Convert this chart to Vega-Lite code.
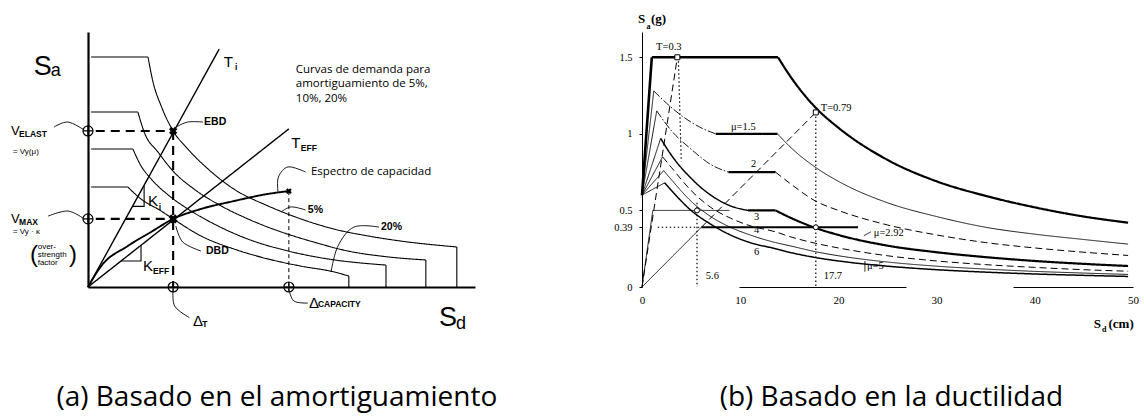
{
  "$schema": "https://vega.github.io/schema/vega-lite/v6.json",
  "background": "white",
  "padding": {"left": 10, "top": 13, "right": 0, "bottom": 0},
  "config": {"view": {"stroke": null}, "axis": {"grid": false, "domainColor": "black", "tickColor": "black", "labelColor": "black"}},
  "spacing": 167,
  "bounds": "flush",
  "resolve": {"scale": {"x": "independent", "y": "independent", "strokeDash": "independent", "strokeWidth": "independent"}},
  "datasets": {
    "Lstraight": [
      {"id": "Ap", "k": "thin", "i": 0, "x": 0.08, "y": 9.02}, {"id": "Ap", "k": "thin", "i": 1, "x": 1.55, "y": 9.02},
      {"id": "Ad", "k": "thin", "i": 0, "x": 9.53, "y": 1.57}, {"id": "Ad", "k": "thin", "i": 1, "x": 9.53, "y": 0},
      {"id": "Bp", "k": "thin", "i": 0, "x": 0.08, "y": 6.86}, {"id": "Bp", "k": "thin", "i": 1, "x": 1.29, "y": 6.86},
      {"id": "Bd", "k": "thin", "i": 0, "x": 8.73, "y": 1.06}, {"id": "Bd", "k": "thin", "i": 1, "x": 8.73, "y": 0},
      {"id": "Cp", "k": "thin", "i": 0, "x": 0.08, "y": 5.41}, {"id": "Cp", "k": "thin", "i": 1, "x": 1.16, "y": 5.41},
      {"id": "Cd", "k": "thin", "i": 0, "x": 7.7, "y": 0.86}, {"id": "Cd", "k": "thin", "i": 1, "x": 7.7, "y": 0},
      {"id": "Dp", "k": "thin", "i": 0, "x": 0.08, "y": 3.92}, {"id": "Dp", "k": "thin", "i": 1, "x": 1.03, "y": 3.92},
      {"id": "Dd", "k": "thin", "i": 0, "x": 6.74, "y": 0.43}, {"id": "Dd", "k": "thin", "i": 1, "x": 6.74, "y": 0},
      {"id": "Ti", "k": "med", "i": 0, "x": 0, "y": 0}, {"id": "Ti", "k": "med", "i": 1, "x": 3.39, "y": 9.33},
      {"id": "Te", "k": "med", "i": 0, "x": 0, "y": 0}, {"id": "Te", "k": "med", "i": 1, "x": 5.19, "y": 6.2},
      {"id": "Kt", "k": "thin", "i": 0, "x": 1.15, "y": 3.16}, {"id": "Kt", "k": "thin", "i": 1, "x": 1.45, "y": 3.16}, {"id": "Kt", "k": "thin", "i": 2, "x": 1.45, "y": 3.99},
      {"id": "Ke", "k": "thin", "i": 0, "x": 0.85, "y": 1.02}, {"id": "Ke", "k": "thin", "i": 1, "x": 1.37, "y": 1.02}, {"id": "Ke", "k": "thin", "i": 2, "x": 1.37, "y": 1.64},
      {"id": "h1", "k": "bdash", "i": 0, "x": 0.2, "y": 6.12}, {"id": "h1", "k": "bdash", "i": 1, "x": 2.2, "y": 6.12},
      {"id": "v1", "k": "bdash", "i": 0, "x": 2.2, "y": 6.12}, {"id": "v1", "k": "bdash", "i": 1, "x": 2.2, "y": 0},
      {"id": "h2", "k": "bdash", "i": 0, "x": 0.2, "y": 2.67}, {"id": "h2", "k": "bdash", "i": 1, "x": 2.2, "y": 2.67},
      {"id": "v2", "k": "fdash", "i": 0, "x": 5.19, "y": 3.76}, {"id": "v2", "k": "fdash", "i": 1, "x": 5.19, "y": 0}
    ],
    "Lsmooth": [
      {"id": "A", "k": "thin", "i": 0, "x": 1.55, "y": 9.02}, {"id": "A", "k": "thin", "i": 1, "x": 1.68, "y": 8.04}, {"id": "A", "k": "thin", "i": 2, "x": 1.89, "y": 7.1}, {"id": "A", "k": "thin", "i": 3, "x": 2.2, "y": 6.12}, {"id": "A", "k": "thin", "i": 4, "x": 2.58, "y": 5.41}, {"id": "A", "k": "thin", "i": 5, "x": 3.1, "y": 4.63}, {"id": "A", "k": "thin", "i": 6, "x": 3.77, "y": 3.84}, {"id": "A", "k": "thin", "i": 7, "x": 4.65, "y": 3.18}, {"id": "A", "k": "thin", "i": 8, "x": 5.5, "y": 2.67}, {"id": "A", "k": "thin", "i": 9, "x": 6.36, "y": 2.27}, {"id": "A", "k": "thin", "i": 10, "x": 7.24, "y": 2.0}, {"id": "A", "k": "thin", "i": 11, "x": 8.09, "y": 1.8}, {"id": "A", "k": "thin", "i": 12, "x": 9.53, "y": 1.57},
      {"id": "B", "k": "thin", "i": 0, "x": 1.29, "y": 6.86}, {"id": "B", "k": "thin", "i": 1, "x": 1.45, "y": 6.08}, {"id": "B", "k": "thin", "i": 2, "x": 1.81, "y": 5.29}, {"id": "B", "k": "thin", "i": 3, "x": 2.22, "y": 4.51}, {"id": "B", "k": "thin", "i": 4, "x": 2.74, "y": 3.84}, {"id": "B", "k": "thin", "i": 5, "x": 3.44, "y": 3.18}, {"id": "B", "k": "thin", "i": 6, "x": 4.13, "y": 2.67}, {"id": "B", "k": "thin", "i": 7, "x": 4.99, "y": 2.16}, {"id": "B", "k": "thin", "i": 8, "x": 5.84, "y": 1.76}, {"id": "B", "k": "thin", "i": 9, "x": 6.72, "y": 1.41}, {"id": "B", "k": "thin", "i": 10, "x": 7.75, "y": 1.18}, {"id": "B", "k": "thin", "i": 11, "x": 8.73, "y": 1.06},
      {"id": "C", "k": "thin", "i": 0, "x": 1.16, "y": 5.41}, {"id": "C", "k": "thin", "i": 1, "x": 1.37, "y": 4.75}, {"id": "C", "k": "thin", "i": 2, "x": 1.63, "y": 4.24}, {"id": "C", "k": "thin", "i": 3, "x": 2.07, "y": 3.61}, {"id": "C", "k": "thin", "i": 4, "x": 2.58, "y": 3.06}, {"id": "C", "k": "thin", "i": 5, "x": 3.26, "y": 2.47}, {"id": "C", "k": "thin", "i": 6, "x": 4.13, "y": 1.88}, {"id": "C", "k": "thin", "i": 7, "x": 5.17, "y": 1.41}, {"id": "C", "k": "thin", "i": 8, "x": 6.2, "y": 1.1}, {"id": "C", "k": "thin", "i": 9, "x": 7.7, "y": 0.86},
      {"id": "D", "k": "thin", "i": 0, "x": 1.03, "y": 3.92}, {"id": "D", "k": "thin", "i": 1, "x": 1.37, "y": 3.45}, {"id": "D", "k": "thin", "i": 2, "x": 1.89, "y": 2.98}, {"id": "D", "k": "thin", "i": 3, "x": 2.2, "y": 2.67}, {"id": "D", "k": "thin", "i": 4, "x": 2.92, "y": 2.0}, {"id": "D", "k": "thin", "i": 5, "x": 3.77, "y": 1.49}, {"id": "D", "k": "thin", "i": 6, "x": 4.65, "y": 1.1}, {"id": "D", "k": "thin", "i": 7, "x": 5.5, "y": 0.82}, {"id": "D", "k": "thin", "i": 8, "x": 6.36, "y": 0.59}, {"id": "D", "k": "thin", "i": 9, "x": 6.74, "y": 0.43},
      {"id": "Cap", "k": "thick", "i": 0, "x": 0, "y": 0}, {"id": "Cap", "k": "thick", "i": 1, "x": 0.34, "y": 0.82}, {"id": "Cap", "k": "thick", "i": 2, "x": 1.03, "y": 1.61}, {"id": "Cap", "k": "thick", "i": 3, "x": 1.63, "y": 2.16}, {"id": "Cap", "k": "thick", "i": 4, "x": 2.2, "y": 2.67}, {"id": "Cap", "k": "thick", "i": 5, "x": 2.92, "y": 3.06}, {"id": "Cap", "k": "thick", "i": 6, "x": 3.77, "y": 3.37}, {"id": "Cap", "k": "thick", "i": 7, "x": 4.65, "y": 3.65}, {"id": "Cap", "k": "thick", "i": 8, "x": 5.19, "y": 3.76}
    ],
    "Llead": [
      {"id": "ve", "i": 0, "x": -0.88, "y": 6.27}, {"id": "ve", "i": 1, "x": -0.52, "y": 6.47}, {"id": "ve", "i": 2, "x": -0.1, "y": 6.16},
      {"id": "vm", "i": 0, "x": -1.03, "y": 2.78}, {"id": "vm", "i": 1, "x": -0.52, "y": 2.98}, {"id": "vm", "i": 2, "x": -0.1, "y": 2.67},
      {"id": "eb", "i": 0, "x": 2.27, "y": 6.27}, {"id": "eb", "i": 1, "x": 2.58, "y": 6.47}, {"id": "eb", "i": 2, "x": 2.97, "y": 6.47},
      {"id": "db", "i": 0, "x": 2.27, "y": 2.39}, {"id": "db", "i": 1, "x": 2.45, "y": 1.76}, {"id": "db", "i": 2, "x": 2.92, "y": 1.41},
      {"id": "es", "i": 0, "x": 4.91, "y": 3.73}, {"id": "es", "i": 1, "x": 4.92, "y": 4.31}, {"id": "es", "i": 2, "x": 5.17, "y": 4.71}, {"id": "es", "i": 3, "x": 5.62, "y": 4.51},
      {"id": "p5", "i": 0, "x": 4.99, "y": 2.94}, {"id": "p5", "i": 1, "x": 5.25, "y": 3.14}, {"id": "p5", "i": 2, "x": 5.62, "y": 3.02},
      {"id": "p20", "i": 0, "x": 6.28, "y": 0.59}, {"id": "p20", "i": 1, "x": 6.46, "y": 1.61}, {"id": "p20", "i": 2, "x": 6.87, "y": 2.35}, {"id": "p20", "i": 3, "x": 7.52, "y": 2.35},
      {"id": "dc", "i": 0, "x": 5.19, "y": -0.08}, {"id": "dc", "i": 1, "x": 5.32, "y": -0.55}, {"id": "dc", "i": 2, "x": 5.68, "y": -0.63},
      {"id": "dt", "i": 0, "x": 2.2, "y": -0.08}, {"id": "dt", "i": 1, "x": 2.24, "y": -0.75}, {"id": "dt", "i": 2, "x": 2.62, "y": -1.2}
    ],
    "Lcirc": [{"x": 0, "y": 6.12}, {"x": 0, "y": 2.67}, {"x": 2.2, "y": 0}, {"x": 5.19, "y": 0}],
    "Lstar": [{"x": 2.2, "y": 6.12, "s": 70}, {"x": 2.2, "y": 2.67, "s": 90}, {"x": 5.19, "y": 3.76, "s": 35}],
    "Ltext": [
      {"x": -1.4, "y": 8.61, "t": "S", "r": "big"},
      {"x": 9.07, "y": -1.22, "t": "S", "r": "big"},
      {"x": -0.96, "y": 8.47, "t": "a", "r": "sub"},
      {"x": 9.51, "y": -1.45, "t": "d", "r": "sub"},
      {"x": 3.51, "y": 8.84, "t": "T", "r": "sym"},
      {"x": 5.25, "y": 5.65, "t": "T", "r": "sym"},
      {"x": 1.55, "y": 3.37, "t": "K", "r": "sym"},
      {"x": 1.42, "y": 0.82, "t": "K", "r": "sym"},
      {"x": 5.71, "y": -0.63, "t": "Δ", "r": "sym"},
      {"x": 2.71, "y": -1.33, "t": "Δ", "r": "sym"},
      {"x": -1.99, "y": 6.12, "t": "V", "r": "v"},
      {"x": -1.99, "y": 2.67, "t": "V", "r": "v"},
      {"x": 3.8, "y": 8.63, "t": "i", "r": "small"},
      {"x": 5.5, "y": 5.45, "t": "EFF", "r": "small"},
      {"x": 1.68, "y": 0.63, "t": "EFF", "r": "small"},
      {"x": 1.83, "y": 3.14, "t": "i", "r": "small"},
      {"x": -1.78, "y": 6.0, "t": "ELAST", "r": "small"},
      {"x": -1.78, "y": 2.55, "t": "MAX", "r": "small"},
      {"x": 5.94, "y": -0.67, "t": "CAPACITY", "r": "small"},
      {"x": 2.95, "y": -1.45, "t": "T", "r": "small"},
      {"x": 3.0, "y": 6.47, "t": "EBD", "r": "lab"},
      {"x": 3.05, "y": 1.41, "t": "DBD", "r": "lab"},
      {"x": 5.68, "y": 3.02, "t": "5%", "r": "lab"},
      {"x": 7.57, "y": 2.35, "t": "20%", "r": "lab"},
      {"x": -1.94, "y": 5.29, "t": "= Vy(μ)", "r": "note"},
      {"x": -1.94, "y": 2.16, "t": "= Vy · κ", "r": "note"},
      {"x": -1.3, "y": 1.57, "t": "over-", "r": "note"},
      {"x": -1.3, "y": 1.25, "t": "strength", "r": "note"},
      {"x": -1.3, "y": 0.94, "t": "factor", "r": "note"},
      {"x": -1.5, "y": 1.25, "t": "(", "r": "paren"},
      {"x": -0.49, "y": 1.25, "t": ")", "r": "paren"},
      {"x": 5.37, "y": 8.51, "t": "Curvas de demanda para", "r": "open"},
      {"x": 5.37, "y": 7.96, "t": "amortiguamiento de 5%,", "r": "open"},
      {"x": 5.37, "y": 7.37, "t": "10%, 20%", "r": "open"},
      {"x": 5.76, "y": 4.51, "t": "Espectro de capacidad", "r": "open"},
      {"x": 4.88, "y": -4.68, "t": "(a) Basado en el amortiguamiento", "r": "cap"}
    ],
    "Rstraight": [
      {"id": "Er", "k": "xthick", "i": 0, "x": 0, "y": 0.6}, {"id": "Er", "k": "xthick", "i": 1, "x": 1.0, "y": 1.5},
      {"id": "Ep", "k": "xthick", "i": 0, "x": 1.0, "y": 1.5}, {"id": "Ep", "k": "xthick", "i": 1, "x": 13.85, "y": 1.5},
      {"id": "T3", "k": "dash", "i": 0, "x": 0, "y": 0}, {"id": "T3", "k": "dash", "i": 1, "x": 3.6, "y": 1.5},
      {"id": "T79", "k": "dash", "i": 0, "x": 6.05, "y": 0.39}, {"id": "T79", "k": "dash", "i": 1, "x": 17.7, "y": 1.14},
      {"id": "Ce", "k": "thin", "i": 0, "x": 0, "y": 0}, {"id": "Ce", "k": "thin", "i": 1, "x": 6.05, "y": 0.39},
      {"id": "Cp", "k": "thick", "i": 0, "x": 6.05, "y": 0.39}, {"id": "Cp", "k": "thick", "i": 1, "x": 22.0, "y": 0.39},
      {"id": "E3", "k": "thin", "i": 0, "x": 0, "y": 0}, {"id": "E3", "k": "thin", "i": 1, "x": 1.1, "y": 0.5}, {"id": "E3", "k": "thin", "i": 2, "x": 8.9, "y": 0.5},
      {"id": "d1", "k": "dot", "i": 0, "x": 3.7, "y": 1.5}, {"id": "d1", "k": "dot", "i": 1, "x": 4.0, "y": 0.82},
      {"id": "d2", "k": "dot", "i": 0, "x": 17.7, "y": 1.14}, {"id": "d2", "k": "dot", "i": 1, "x": 17.7, "y": 0},
      {"id": "d3", "k": "dot", "i": 0, "x": 5.6, "y": 0.55}, {"id": "d3", "k": "dot", "i": 1, "x": 5.6, "y": 0},
      {"id": "d4", "k": "dot", "i": 0, "x": 1.6, "y": 0.39}, {"id": "d4", "k": "dot", "i": 1, "x": 6.05, "y": 0.39},
      {"id": "P15", "k": "thick", "i": 0, "x": 7.5, "y": 1.0}, {"id": "P15", "k": "thick", "i": 1, "x": 13.8, "y": 1.0},
      {"id": "P2", "k": "thick", "i": 0, "x": 8.8, "y": 0.75}, {"id": "P2", "k": "thick", "i": 1, "x": 13.6, "y": 0.75},
      {"id": "P3", "k": "thick", "i": 0, "x": 10.8, "y": 0.5}, {"id": "P3", "k": "thick", "i": 1, "x": 13.6, "y": 0.5},
      {"id": "r15", "k": "thin", "i": 0, "x": 0, "y": 0.6}, {"id": "r15", "k": "thin", "i": 1, "x": 1.2, "y": 1.28},
      {"id": "r2", "k": "thin", "i": 0, "x": 0, "y": 0.6}, {"id": "r2", "k": "thin", "i": 1, "x": 1.5, "y": 1.15},
      {"id": "r3", "k": "thin", "i": 0, "x": 0, "y": 0.6}, {"id": "r3", "k": "thin", "i": 1, "x": 1.9, "y": 0.97},
      {"id": "r4", "k": "thin", "i": 0, "x": 0, "y": 0.6}, {"id": "r4", "k": "thin", "i": 1, "x": 2.1, "y": 0.85},
      {"id": "r5", "k": "thin", "i": 0, "x": 0, "y": 0.6}, {"id": "r5", "k": "thin", "i": 1, "x": 2.2, "y": 0.76},
      {"id": "r6", "k": "thin", "i": 0, "x": 0, "y": 0.6}, {"id": "r6", "k": "thin", "i": 1, "x": 2.3, "y": 0.68},
      {"id": "l292", "k": "thin", "i": 0, "x": 22.6, "y": 0.335}, {"id": "l292", "k": "thin", "i": 1, "x": 23.3, "y": 0.36},
      {"id": "l5", "k": "thin", "i": 0, "x": 22.7, "y": 0.1}, {"id": "l5", "k": "thin", "i": 1, "x": 22.7, "y": 0.17}
    ],
    "Rsmooth": [
      {"id": "Ed", "k": "thick", "i": 0, "x": 13.85, "y": 1.5}, {"id": "Ed", "k": "thick", "i": 1, "x": 15, "y": 1.385}, {"id": "Ed", "k": "thick", "i": 2, "x": 17.7, "y": 1.17}, {"id": "Ed", "k": "thick", "i": 3, "x": 20, "y": 1.04}, {"id": "Ed", "k": "thick", "i": 4, "x": 25, "y": 0.83}, {"id": "Ed", "k": "thick", "i": 5, "x": 30, "y": 0.69}, {"id": "Ed", "k": "thick", "i": 6, "x": 35, "y": 0.595}, {"id": "Ed", "k": "thick", "i": 7, "x": 40, "y": 0.52}, {"id": "Ed", "k": "thick", "i": 8, "x": 45, "y": 0.46}, {"id": "Ed", "k": "thick", "i": 9, "x": 49.5, "y": 0.42},
      {"id": "m15a", "k": "dashdot", "i": 0, "x": 1.2, "y": 1.28}, {"id": "m15a", "k": "dashdot", "i": 1, "x": 2.5, "y": 1.2}, {"id": "m15a", "k": "dashdot", "i": 2, "x": 4, "y": 1.12}, {"id": "m15a", "k": "dashdot", "i": 3, "x": 6, "y": 1.04}, {"id": "m15a", "k": "dashdot", "i": 4, "x": 7.5, "y": 1.0},
      {"id": "m15b", "k": "thin", "i": 0, "x": 13.8, "y": 1.0}, {"id": "m15b", "k": "thin", "i": 1, "x": 15, "y": 0.92}, {"id": "m15b", "k": "thin", "i": 2, "x": 17.7, "y": 0.78}, {"id": "m15b", "k": "thin", "i": 3, "x": 20, "y": 0.69}, {"id": "m15b", "k": "thin", "i": 4, "x": 25, "y": 0.55}, {"id": "m15b", "k": "thin", "i": 5, "x": 30, "y": 0.46}, {"id": "m15b", "k": "thin", "i": 6, "x": 35, "y": 0.39}, {"id": "m15b", "k": "thin", "i": 7, "x": 40, "y": 0.345}, {"id": "m15b", "k": "thin", "i": 8, "x": 45, "y": 0.31}, {"id": "m15b", "k": "thin", "i": 9, "x": 49.5, "y": 0.28},
      {"id": "m2a", "k": "dashdot", "i": 0, "x": 1.5, "y": 1.15}, {"id": "m2a", "k": "dashdot", "i": 1, "x": 3, "y": 1.02}, {"id": "m2a", "k": "dashdot", "i": 2, "x": 5, "y": 0.9}, {"id": "m2a", "k": "dashdot", "i": 3, "x": 7, "y": 0.8}, {"id": "m2a", "k": "dashdot", "i": 4, "x": 8.8, "y": 0.75},
      {"id": "m2b", "k": "dash", "i": 0, "x": 13.6, "y": 0.75}, {"id": "m2b", "k": "dash", "i": 1, "x": 15, "y": 0.68}, {"id": "m2b", "k": "dash", "i": 2, "x": 17.7, "y": 0.56}, {"id": "m2b", "k": "dash", "i": 3, "x": 20, "y": 0.5}, {"id": "m2b", "k": "dash", "i": 4, "x": 25, "y": 0.405}, {"id": "m2b", "k": "dash", "i": 5, "x": 30, "y": 0.34}, {"id": "m2b", "k": "dash", "i": 6, "x": 35, "y": 0.29}, {"id": "m2b", "k": "dash", "i": 7, "x": 40, "y": 0.255}, {"id": "m2b", "k": "dash", "i": 8, "x": 45, "y": 0.227}, {"id": "m2b", "k": "dash", "i": 9, "x": 49.5, "y": 0.206},
      {"id": "m3a", "k": "med", "i": 0, "x": 1.9, "y": 0.97}, {"id": "m3a", "k": "med", "i": 1, "x": 3, "y": 0.86}, {"id": "m3a", "k": "med", "i": 2, "x": 5, "y": 0.71}, {"id": "m3a", "k": "med", "i": 3, "x": 7, "y": 0.6}, {"id": "m3a", "k": "med", "i": 4, "x": 9, "y": 0.53}, {"id": "m3a", "k": "med", "i": 5, "x": 10.8, "y": 0.5},
      {"id": "m3b", "k": "thick", "i": 0, "x": 13.6, "y": 0.5}, {"id": "m3b", "k": "thick", "i": 1, "x": 15.2, "y": 0.45}, {"id": "m3b", "k": "thick", "i": 2, "x": 17.7, "y": 0.385}, {"id": "m3b", "k": "thick", "i": 3, "x": 20, "y": 0.34}, {"id": "m3b", "k": "thick", "i": 4, "x": 25, "y": 0.27}, {"id": "m3b", "k": "thick", "i": 5, "x": 30, "y": 0.227}, {"id": "m3b", "k": "thick", "i": 6, "x": 35, "y": 0.195}, {"id": "m3b", "k": "thick", "i": 7, "x": 40, "y": 0.17}, {"id": "m3b", "k": "thick", "i": 8, "x": 45, "y": 0.151}, {"id": "m3b", "k": "thick", "i": 9, "x": 49.5, "y": 0.137},
      {"id": "m4", "k": "dash", "i": 0, "x": 2.1, "y": 0.85}, {"id": "m4", "k": "dash", "i": 1, "x": 3, "y": 0.78}, {"id": "m4", "k": "dash", "i": 2, "x": 5, "y": 0.63}, {"id": "m4", "k": "dash", "i": 3, "x": 7, "y": 0.52}, {"id": "m4", "k": "dash", "i": 4, "x": 9, "y": 0.45}, {"id": "m4", "k": "dash", "i": 5, "x": 11, "y": 0.4}, {"id": "m4", "k": "dash", "i": 6, "x": 13.6, "y": 0.36}, {"id": "m4", "k": "dash", "i": 7, "x": 15, "y": 0.33}, {"id": "m4", "k": "dash", "i": 8, "x": 17.7, "y": 0.285}, {"id": "m4", "k": "dash", "i": 9, "x": 20, "y": 0.255}, {"id": "m4", "k": "dash", "i": 10, "x": 25, "y": 0.204}, {"id": "m4", "k": "dash", "i": 11, "x": 30, "y": 0.17}, {"id": "m4", "k": "dash", "i": 12, "x": 35, "y": 0.146}, {"id": "m4", "k": "dash", "i": 13, "x": 40, "y": 0.128}, {"id": "m4", "k": "dash", "i": 14, "x": 45, "y": 0.113}, {"id": "m4", "k": "dash", "i": 15, "x": 49.5, "y": 0.103},
      {"id": "m5", "k": "thin", "i": 0, "x": 2.2, "y": 0.76}, {"id": "m5", "k": "thin", "i": 1, "x": 3, "y": 0.7}, {"id": "m5", "k": "thin", "i": 2, "x": 5, "y": 0.56}, {"id": "m5", "k": "thin", "i": 3, "x": 7, "y": 0.46}, {"id": "m5", "k": "thin", "i": 4, "x": 9, "y": 0.39}, {"id": "m5", "k": "thin", "i": 5, "x": 11, "y": 0.34}, {"id": "m5", "k": "thin", "i": 6, "x": 13.6, "y": 0.29}, {"id": "m5", "k": "thin", "i": 7, "x": 15, "y": 0.27}, {"id": "m5", "k": "thin", "i": 8, "x": 17.7, "y": 0.23}, {"id": "m5", "k": "thin", "i": 9, "x": 20, "y": 0.204}, {"id": "m5", "k": "thin", "i": 10, "x": 25, "y": 0.163}, {"id": "m5", "k": "thin", "i": 11, "x": 30, "y": 0.136}, {"id": "m5", "k": "thin", "i": 12, "x": 35, "y": 0.117}, {"id": "m5", "k": "thin", "i": 13, "x": 40, "y": 0.102}, {"id": "m5", "k": "thin", "i": 14, "x": 45, "y": 0.091}, {"id": "m5", "k": "thin", "i": 15, "x": 49.5, "y": 0.082},
      {"id": "m6", "k": "med", "i": 0, "x": 2.3, "y": 0.68}, {"id": "m6", "k": "med", "i": 1, "x": 3, "y": 0.63}, {"id": "m6", "k": "med", "i": 2, "x": 5, "y": 0.5}, {"id": "m6", "k": "med", "i": 3, "x": 7, "y": 0.41}, {"id": "m6", "k": "med", "i": 4, "x": 9, "y": 0.34}, {"id": "m6", "k": "med", "i": 5, "x": 11, "y": 0.29}, {"id": "m6", "k": "med", "i": 6, "x": 13.6, "y": 0.25}, {"id": "m6", "k": "med", "i": 7, "x": 15, "y": 0.227}, {"id": "m6", "k": "med", "i": 8, "x": 17.7, "y": 0.192}, {"id": "m6", "k": "med", "i": 9, "x": 20, "y": 0.17}, {"id": "m6", "k": "med", "i": 10, "x": 25, "y": 0.136}, {"id": "m6", "k": "med", "i": 11, "x": 30, "y": 0.113}, {"id": "m6", "k": "med", "i": 12, "x": 35, "y": 0.097}, {"id": "m6", "k": "med", "i": 13, "x": 40, "y": 0.085}, {"id": "m6", "k": "med", "i": 14, "x": 45, "y": 0.076}, {"id": "m6", "k": "med", "i": 15, "x": 49.5, "y": 0.069}
    ],
    "Rsq": [{"x": 3.6, "y": 1.5}, {"x": 17.7, "y": 1.14}],
    "Rcirc": [{"x": 5.6, "y": 0.5}, {"x": 17.7, "y": 0.39}],
    "Rtext": [
      {"x": -0.41, "y": 1.749, "t": "S", "r": "axt"},
      {"x": 0.92, "y": 1.749, "t": "(g)", "r": "axt"},
      {"x": 46.0, "y": -0.24, "t": "S", "r": "axt"},
      {"x": 47.5, "y": -0.24, "t": "(cm)", "r": "axt"},
      {"x": 0.45, "y": 1.7, "t": "a", "r": "axsub"},
      {"x": 46.85, "y": -0.28, "t": "d", "r": "axsub"},
      {"x": 1.43, "y": 1.567, "t": "T=0.3", "r": "lab"},
      {"x": 18.2, "y": 1.168, "t": "T=0.79", "r": "lab"},
      {"x": 9.06, "y": 1.044, "t": "μ=1.5", "r": "lab"},
      {"x": 11.1, "y": 0.8, "t": "2", "r": "lab"},
      {"x": 11.4, "y": 0.46, "t": "3", "r": "lab"},
      {"x": 11.4, "y": 0.37, "t": "4", "r": "lab"},
      {"x": 11.4, "y": 0.23, "t": "6", "r": "lab"},
      {"x": 23.6, "y": 0.35, "t": "μ=2.92", "r": "lab"},
      {"x": 22.9, "y": 0.14, "t": "μ=5", "r": "lab"},
      {"x": 6.5, "y": 0.072, "t": "5.6", "r": "lab"},
      {"x": 18.5, "y": 0.072, "t": "17.7", "r": "lab"},
      {"x": 25.4, "y": -0.78, "t": "(b) Basado en la ductilidad", "r": "cap"}
    ]
  },
  "hconcat": [
    {
      "width": 387,
      "height": 255,
      "encoding": {
        "x": {"field": "x", "type": "quantitative", "scale": {"domain": [0, 10], "nice": false, "zero": false}, "axis": {"domainWidth": 2.2, "ticks": false, "labels": false, "title": null}},
        "y": {"field": "y", "type": "quantitative", "scale": {"domain": [0, 10], "nice": false, "zero": false}, "axis": {"domainWidth": 2.2, "ticks": false, "labels": false, "title": null}}
      },
      "layer": [
        {
          "data": {"name": "Lstraight"},
          "mark": {"type": "line", "color": "black"},
          "encoding": {
            "detail": {"field": "id"},
            "order": {"field": "i", "type": "quantitative"},
            "strokeDash": {"field": "k", "type": "nominal", "legend": null, "scale": {"domain": ["thin", "med", "thick", "xthick", "dash", "bdash", "fdash", "dot", "dashdot"], "range": [[1, 0], [1, 0], [1, 0], [1, 0], [7, 4], [9, 6], [4, 3], [1.5, 2.5], [8, 2, 1.5, 2]]}},
            "strokeWidth": {"field": "k", "type": "nominal", "legend": null, "scale": {"type": "ordinal", "domain": ["thin", "med", "thick", "xthick", "dash", "bdash", "fdash", "dot", "dashdot"], "range": [1.1, 1.4, 1.9, 2.6, 1, 2.1, 1, 1.2, 0.9]}}
          }
        },
        {
          "data": {"name": "Lsmooth"},
          "mark": {"type": "line", "color": "black", "interpolate": "monotone"},
          "encoding": {
            "detail": {"field": "id"},
            "order": {"field": "i", "type": "quantitative"},
            "strokeDash": {"field": "k", "type": "nominal", "legend": null, "scale": {"domain": ["thin", "med", "thick", "xthick", "dash", "bdash", "fdash", "dot", "dashdot"], "range": [[1, 0], [1, 0], [1, 0], [1, 0], [7, 4], [9, 6], [4, 3], [1.5, 2.5], [8, 2, 1.5, 2]]}},
            "strokeWidth": {"field": "k", "type": "nominal", "legend": null, "scale": {"type": "ordinal", "domain": ["thin", "med", "thick", "xthick", "dash", "bdash", "fdash", "dot", "dashdot"], "range": [1.1, 1.4, 1.9, 2.6, 1, 2.1, 1, 1.2, 0.9]}}
          }
        },
        {
          "data": {"name": "Llead"},
          "mark": {"type": "line", "color": "black", "interpolate": "cardinal", "strokeWidth": 0.9},
          "encoding": {"detail": {"field": "id"}, "order": {"field": "i", "type": "quantitative"}}
        },
        {
          "data": {"name": "Lcirc"},
          "mark": {"type": "point", "shape": "circle", "filled": false, "color": "black", "strokeWidth": 1.2, "size": 100, "opacity": 1}
        },
        {
          "data": {"name": "Lcirc"},
          "mark": {"type": "point", "shape": "M-1,0L1,0M0,-1L0,1", "filled": false, "color": "black", "strokeWidth": 1.2, "size": 100, "opacity": 1}
        },
        {
          "data": {"name": "Lstar"},
          "mark": {"type": "point", "shape": "cross", "filled": true, "color": "black", "angle": 45, "opacity": 1},
          "encoding": {"size": {"field": "s", "type": "quantitative", "scale": null}}
        },
        {
          "data": {"name": "Ltext"}, "transform": [{"filter": "datum.r === 'big'"}],
          "mark": {"type": "text", "align": "left", "baseline": "middle", "font": "Liberation Sans", "fontSize": 27, "color": "black"},
          "encoding": {"text": {"field": "t"}}
        },
        {
          "data": {"name": "Ltext"}, "transform": [{"filter": "datum.r === 'sub'"}],
          "mark": {"type": "text", "align": "left", "baseline": "middle", "font": "Liberation Sans", "fontSize": 18, "color": "black"},
          "encoding": {"text": {"field": "t"}}
        },
        {
          "data": {"name": "Ltext"}, "transform": [{"filter": "datum.r === 'sym'"}],
          "mark": {"type": "text", "align": "left", "baseline": "middle", "font": "Liberation Sans", "fontSize": 15, "color": "black"},
          "encoding": {"text": {"field": "t"}}
        },
        {
          "data": {"name": "Ltext"}, "transform": [{"filter": "datum.r === 'v'"}],
          "mark": {"type": "text", "align": "left", "baseline": "middle", "font": "Liberation Sans", "fontSize": 13, "color": "black"},
          "encoding": {"text": {"field": "t"}}
        },
        {
          "data": {"name": "Ltext"}, "transform": [{"filter": "datum.r === 'small'"}],
          "mark": {"type": "text", "align": "left", "baseline": "middle", "font": "Liberation Sans", "fontSize": 8.5, "fontWeight": "bold", "color": "black"},
          "encoding": {"text": {"field": "t"}}
        },
        {
          "data": {"name": "Ltext"}, "transform": [{"filter": "datum.r === 'lab'"}],
          "mark": {"type": "text", "align": "left", "baseline": "middle", "font": "Liberation Sans", "fontSize": 10.5, "fontWeight": "bold", "color": "black"},
          "encoding": {"text": {"field": "t"}}
        },
        {
          "data": {"name": "Ltext"}, "transform": [{"filter": "datum.r === 'note'"}],
          "mark": {"type": "text", "align": "left", "baseline": "middle", "font": "Liberation Sans", "fontSize": 8, "color": "black"},
          "encoding": {"text": {"field": "t"}}
        },
        {
          "data": {"name": "Ltext"}, "transform": [{"filter": "datum.r === 'paren'"}],
          "mark": {"type": "text", "align": "left", "baseline": "middle", "font": "Liberation Sans", "fontSize": 24, "color": "black"},
          "encoding": {"text": {"field": "t"}}
        },
        {
          "data": {"name": "Ltext"}, "transform": [{"filter": "datum.r === 'open'"}],
          "mark": {"type": "text", "align": "left", "baseline": "middle", "font": "Open Sans", "fontSize": 11.5, "color": "black"},
          "encoding": {"text": {"field": "t"}}
        },
        {
          "data": {"name": "Ltext"}, "transform": [{"filter": "datum.r === 'cap'"}],
          "mark": {"type": "text", "align": "center", "baseline": "alphabetic", "font": "Open Sans", "fontSize": 28, "color": "black"},
          "encoding": {"text": {"field": "t"}}
        }
      ]
    },
    {
      "width": 491,
      "height": 255,
      "encoding": {
        "x": {"field": "x", "type": "quantitative", "scale": {"domain": [0, 50], "nice": false, "zero": false}, "axis": {"values": [0, 10, 20, 30, 40, 50], "format": "d", "ticks": false, "labelPadding": 7, "labelFont": "Liberation Serif", "labelFontSize": 11, "labelFlush": false, "domainWidth": 1, "domainDash": [0, 97, 167, 107, 125, 100], "title": null}},
        "y": {"field": "y", "type": "quantitative", "scale": {"domain": [0, 1.665], "nice": false, "zero": false}, "axis": {"values": [0, 0.39, 0.5, 1, 1.5], "format": "~g", "ticks": true, "tickSize": 3, "labelPadding": 7, "labelFont": "Liberation Serif", "labelFontSize": 10.5, "labelOverlap": false, "labelFlush": false, "domainWidth": 1, "title": null}}
      },
      "layer": [
        {
          "data": {"name": "Rstraight"},
          "mark": {"type": "line", "color": "black"},
          "encoding": {
            "detail": {"field": "id"},
            "order": {"field": "i", "type": "quantitative"},
            "strokeDash": {"field": "k", "type": "nominal", "legend": null, "scale": {"domain": ["thin", "med", "thick", "xthick", "dash", "bdash", "fdash", "dot", "dashdot"], "range": [[1, 0], [1, 0], [1, 0], [1, 0], [7, 4], [9, 6], [4, 3], [1.5, 2.5], [8, 2, 1.5, 2]]}},
            "strokeWidth": {"field": "k", "type": "nominal", "legend": null, "scale": {"type": "ordinal", "domain": ["thin", "med", "thick", "xthick", "dash", "bdash", "fdash", "dot", "dashdot"], "range": [0.9, 1.5, 2.2, 2.6, 1, 2.1, 1, 1.2, 0.9]}}
          }
        },
        {
          "data": {"name": "Rsmooth"},
          "mark": {"type": "line", "color": "black", "interpolate": "monotone"},
          "encoding": {
            "detail": {"field": "id"},
            "order": {"field": "i", "type": "quantitative"},
            "strokeDash": {"field": "k", "type": "nominal", "legend": null, "scale": {"domain": ["thin", "med", "thick", "xthick", "dash", "bdash", "fdash", "dot", "dashdot"], "range": [[1, 0], [1, 0], [1, 0], [1, 0], [7, 4], [9, 6], [4, 3], [1.5, 2.5], [8, 2, 1.5, 2]]}},
            "strokeWidth": {"field": "k", "type": "nominal", "legend": null, "scale": {"type": "ordinal", "domain": ["thin", "med", "thick", "xthick", "dash", "bdash", "fdash", "dot", "dashdot"], "range": [0.9, 1.5, 2.2, 2.6, 1, 2.1, 1, 1.2, 0.9]}}
          }
        },
        {
          "data": {"name": "Rsq"},
          "mark": {"type": "point", "shape": "square", "filled": true, "fill": "white", "stroke": "black", "strokeWidth": 1, "size": 25, "opacity": 1}
        },
        {
          "data": {"name": "Rcirc"},
          "mark": {"type": "point", "shape": "circle", "filled": true, "fill": "white", "stroke": "black", "strokeWidth": 1, "size": 25, "opacity": 1}
        },
        {
          "data": {"name": "Rtext"}, "transform": [{"filter": "datum.r === 'axt'"}],
          "mark": {"type": "text", "align": "left", "baseline": "middle", "font": "Liberation Serif", "fontSize": 13, "fontWeight": "bold", "color": "black"},
          "encoding": {"text": {"field": "t"}}
        },
        {
          "data": {"name": "Rtext"}, "transform": [{"filter": "datum.r === 'axsub'"}],
          "mark": {"type": "text", "align": "left", "baseline": "middle", "font": "Liberation Serif", "fontSize": 8, "fontWeight": "bold", "color": "black"},
          "encoding": {"text": {"field": "t"}}
        },
        {
          "data": {"name": "Rtext"}, "transform": [{"filter": "datum.r === 'lab'"}],
          "mark": {"type": "text", "align": "left", "baseline": "middle", "font": "Liberation Serif", "fontSize": 10.5, "color": "black"},
          "encoding": {"text": {"field": "t"}}
        },
        {
          "data": {"name": "Rtext"}, "transform": [{"filter": "datum.r === 'cap'"}],
          "mark": {"type": "text", "align": "center", "baseline": "alphabetic", "font": "Open Sans", "fontSize": 28, "color": "black"},
          "encoding": {"text": {"field": "t"}}
        }
      ]
    }
  ]
}
